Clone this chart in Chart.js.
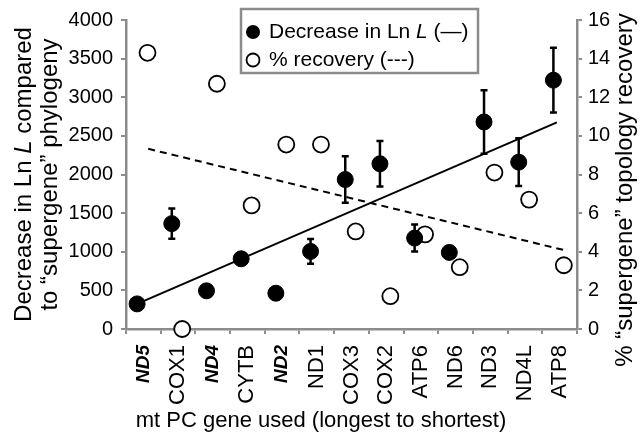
<!DOCTYPE html>
<html>
<head>
<meta charset="utf-8">
<script src="https://cdn.jsdelivr.net/npm/chart.js@4/dist/chart.umd.min.js"></script>
<style>
    body { margin: 0; background: #fff; }
</style>
</head>
<body>
<canvas id="grafico" width="643" height="433"></canvas>
<script>
const genes = ['ND5', 'COX1', 'ND4', 'CYTB', 'ND2', 'ND1', 'COX3', 'COX2', 'ATP6', 'ND6', 'ND3', 'ND4L', 'ATP8'];
const genesNegrito = ['ND5', 'ND4', 'ND2'];

// queda em Ln L (eixo esquerdo) e barras de erro (+/-)
const quedaLnL = [325, 1364, 494, 909, 463, 1004, 1935, 2139, 1177, 991, 2680, 2160, 3221];
const erroLnL = [0, 195, 0, 0, 0, 160, 300, 295, 175, 0, 410, 310, 420];

// % recuperacao da topologia (eixo direito)
const recuperacao = [14.3, 0, 12.7, 6.4, 9.55, 9.55, 5.05, 1.7, 4.9, 3.2, 8.1, 6.7, 3.3];

// linhas de tendencia: [inicio, fim]
const tendenciaLnLx = [-0.18, 11.92];
const tendenciaLnLy = [325, 2675];
const tendenciaRecx = [0.14, 12.21];
const tendenciaRecy = [9.33, 4.05];

const yTicks = [0, 500, 1000, 1500, 2000, 2500, 3000, 3500, 4000];
const y2Ticks = [0, 2, 4, 6, 8, 10, 12, 14, 16];

const CINZA = '#8c8c8c';
const FONTE = "'Liberation Sans', Arial, sans-serif";

const desvioCheio = -0.18;
const desvioVazio = 0.12;

const pontosLnL = quedaLnL.map((v, i) => ({ x: i + desvioCheio, y: v }));
const pontosRec = recuperacao.map((v, i) => ({ x: i + desvioVazio, y: v }));

function textoMisto(ctx, partes, x, y) {
    let total = 0;
    partes.forEach(p => { ctx.font = p.font; total += ctx.measureText(p.t).width; });
    let pos = x - total / 2;
    partes.forEach(p => {
        ctx.font = p.font;
        ctx.fillText(p.t, pos, y);
        pos += ctx.measureText(p.t).width;
    });
}

const extras = {
    id: 'extras',
    beforeDatasetsDraw(chart) {
        const ctx = chart.ctx;
        const xs = chart.scales.xv;
        const ys = chart.scales.y;
        ctx.save();
        ctx.strokeStyle = '#000';
        ctx.lineWidth = 2.5;
        for (let i = 0; i < quedaLnL.length; i++) {
            if (!erroLnL[i]) continue;
            const px = xs.getPixelForValue(i + desvioCheio);
            const top = ys.getPixelForValue(quedaLnL[i] + erroLnL[i]);
            const bot = ys.getPixelForValue(quedaLnL[i] - erroLnL[i]);
            ctx.beginPath();
            ctx.moveTo(px, top); ctx.lineTo(px, bot);
            ctx.moveTo(px - 3.5, top); ctx.lineTo(px + 3.5, top);
            ctx.moveTo(px - 3.5, bot); ctx.lineTo(px + 3.5, bot);
            ctx.stroke();
        }
        ctx.restore();
    },
    afterDraw(chart) {
        const ctx = chart.ctx;
        const area = chart.chartArea;
        ctx.save();
        ctx.fillStyle = '#000';
        ctx.textBaseline = 'middle';
        ctx.textAlign = 'left';

        // titulo eixo esquerdo (duas linhas)
        ctx.save();
        ctx.translate(24, (area.top + area.bottom) / 2);
        ctx.rotate(-Math.PI / 2);
        textoMisto(ctx, [
            { t: 'Decrease in Ln ', font: '24px ' + FONTE },
            { t: 'L', font: 'italic 24px ' + FONTE },
            { t: ' compared', font: '24px ' + FONTE }
        ], 0, 0);
        ctx.restore();
        ctx.save();
        ctx.translate(50, (area.top + area.bottom) / 2);
        ctx.rotate(-Math.PI / 2);
        textoMisto(ctx, [{ t: 'to \u201Csupergene\u201D phylogeny', font: '24px ' + FONTE }], 0, 0);
        ctx.restore();

        // titulo eixo direito
        ctx.save();
        ctx.translate(625, 190);
        ctx.rotate(-Math.PI / 2);
        textoMisto(ctx, [{ t: '% \u201Csupergene\u201D topology recovery', font: '24px ' + FONTE }], 0, 0);
        ctx.restore();

        // titulo eixo x
        ctx.textBaseline = 'alphabetic';
        textoMisto(ctx, [{ t: 'mt PC gene used (longest to shortest)', font: '22px ' + FONTE }], 321, 427);

        // legenda
        ctx.strokeStyle = CINZA;
        ctx.lineWidth = 2.5;
        ctx.fillStyle = '#fff';
        ctx.fillRect(241, 9, 237, 64);
        ctx.strokeRect(241, 9, 237, 64);

        ctx.fillStyle = '#000';
        ctx.beginPath();
        ctx.arc(253, 32, 7, 0, Math.PI * 2);
        ctx.fill();
        ctx.fillStyle = '#fff';
        ctx.strokeStyle = '#000';
        ctx.lineWidth = 1.8;
        ctx.beginPath();
        ctx.arc(253, 60, 6.5, 0, Math.PI * 2);
        ctx.fill();
        ctx.stroke();

        ctx.fillStyle = '#000';
        ctx.textBaseline = 'middle';
        ctx.textAlign = 'left';
        let x = 269;
        ctx.font = '21px ' + FONTE;
        ctx.fillText('Decrease in Ln ', x, 32);
        x += ctx.measureText('Decrease in Ln ').width;
        ctx.font = 'italic 21px ' + FONTE;
        ctx.fillText('L', x, 32);
        x += ctx.measureText('L').width;
        ctx.font = '21px ' + FONTE;
        ctx.fillText(' (\u2014)', x, 32);
        ctx.fillText('% recovery (---)', 269, 60);
        ctx.restore();
    }
};

Chart.defaults.color = '#000';
Chart.defaults.font.family = FONTE;

const grafico = new Chart(document.getElementById('grafico'), {
    type: 'scatter',
    data: {
        datasets: [
            {
                label: 'Decrease in Ln L',
                data: pontosLnL,
                xAxisID: 'xv',
                yAxisID: 'y',
                pointRadius: 8,
                pointBackgroundColor: '#000',
                pointBorderColor: '#000',
                pointBorderWidth: 1,
                clip: false
            },
            {
                label: '% recovery',
                data: pontosRec,
                xAxisID: 'xv',
                yAxisID: 'y2',
                pointRadius: 8,
                pointBackgroundColor: '#fff',
                pointBorderColor: '#000',
                pointBorderWidth: 1.8,
                clip: false
            },
            {
                type: 'line',
                data: tendenciaLnLx.map((x, i) => ({ x: x, y: tendenciaLnLy[i] })),
                xAxisID: 'xv',
                yAxisID: 'y',
                borderColor: '#000',
                borderWidth: 2,
                pointRadius: 0,
                fill: false
            },
            {
                type: 'line',
                data: tendenciaRecx.map((x, i) => ({ x: x, y: tendenciaRecy[i] })),
                xAxisID: 'xv',
                yAxisID: 'y2',
                borderColor: '#000',
                borderWidth: 2,
                borderDash: [7, 5],
                pointRadius: 0,
                fill: false
            }
        ]
    },
    options: {
        responsive: false,
        animation: false,
        layout: { padding: { top: 20 } },
        plugins: {
            legend: { display: false },
            tooltip: { enabled: false }
        },
        scales: {
            x: {
                type: 'category',
                labels: genes,
                offset: true,
                border: { color: CINZA, width: 2.5 },
                grid: { offset: true, drawOnChartArea: false, color: CINZA, lineWidth: 2, tickLength: 5 },
                ticks: {
                    minRotation: 90,
                    maxRotation: 90,
                    padding: 11,
                    autoSkip: false,
                    font: (c) => genesNegrito.includes(genes[c.index])
                        ? { family: FONTE, size: 19, weight: 'bold', style: 'italic' }
                        : { family: FONTE, size: 22 }
                },
                afterFit: (s) => { s.height = 433 - 329; }
            },
            xv: {
                type: 'linear',
                display: false,
                min: -0.5,
                max: 12.5
            },
            y: {
                position: 'left',
                min: 0,
                max: 4000,
                afterBuildTicks: (s) => { s.ticks = yTicks.map(v => ({ value: v })); },
                border: { color: CINZA, width: 2.5 },
                grid: { drawOnChartArea: false, color: CINZA, lineWidth: 2, tickLength: 5 },
                ticks: { padding: 8, font: { size: 20 }, callback: (v) => String(v) },
                afterFit: (s) => { s.width = 126; }
            },
            y2: {
                position: 'right',
                min: 0,
                max: 16,
                afterBuildTicks: (s) => { s.ticks = y2Ticks.map(v => ({ value: v })); },
                border: { color: CINZA, width: 2.5 },
                grid: { drawOnChartArea: false, color: CINZA, lineWidth: 2, tickLength: 5 },
                ticks: { padding: 6, font: { size: 20 }, callback: (v) => String(v) },
                afterFit: (s) => { s.width = 643 - 577; }
            }
        }
    },
    plugins: [extras]
});
</script>
</body>
</html>
